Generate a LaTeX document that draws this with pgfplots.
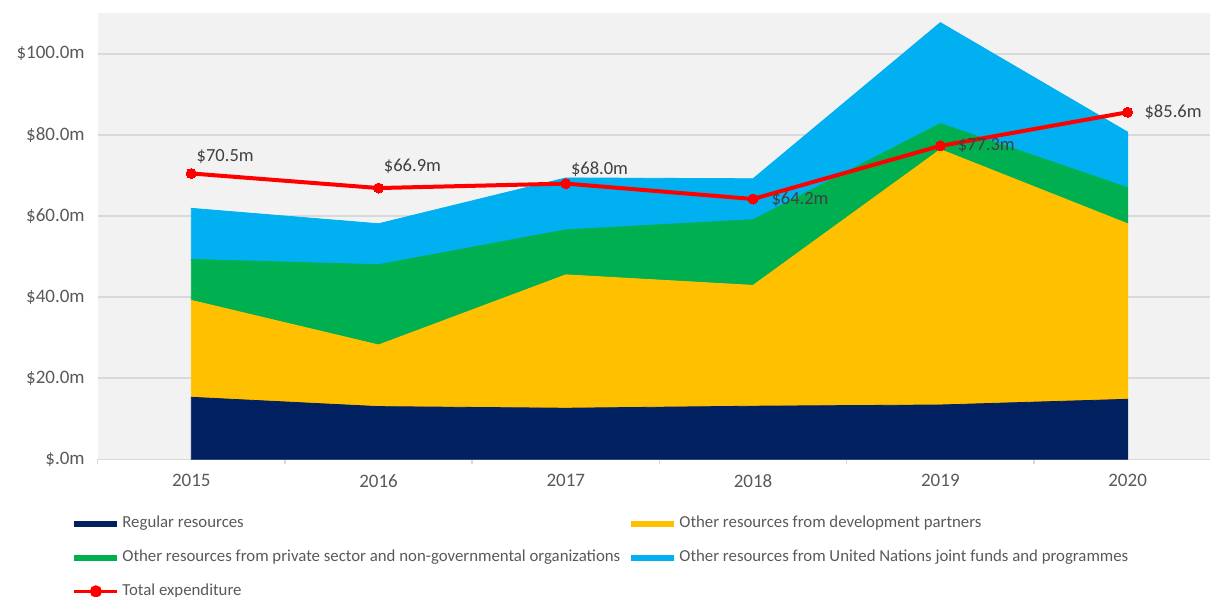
\documentclass[border=0pt]{standalone}
\usepackage{pgfplots}
\pgfplotsset{compat=1.18}
\usepackage{fontspec}
\setmainfont{Carlito}
\definecolor{navyc}{HTML}{002060}
\definecolor{yelc}{HTML}{FFC000}
\definecolor{grnc}{HTML}{00B050}
\definecolor{bluc}{HTML}{00B0F0}
\definecolor{redc}{HTML}{FF0000}
\definecolor{bgc}{HTML}{F2F2F2}
\definecolor{gridc}{HTML}{D9D9D9}
\definecolor{labc}{HTML}{595959}
\definecolor{datc}{HTML}{404040}
\pgfplotsset{
  common/.style={
    at={(48.85pt,68.35pt)}, anchor=south west,
    scale only axis, width=556.15pt, height=223pt,
    xmin=-0.5, xmax=5.44, ymin=0, ymax=110,
  }
}
\begin{document}
\begin{tikzpicture}
\useasboundingbox (0,0) rectangle (605pt,298pt);
\begin{axis}[
  common,
  axis background/.style={fill=bgc},
  axis x line*=bottom, axis y line*=left,
  y axis line style={draw=none},
  x axis line style={draw=gridc, line width=0.75pt},
  ytick={0,20,...,100},
  yticklabels={\$.0m,\$20.0m,\$40.0m,\$60.0m,\$80.0m,\$100.0m},
  ymajorgrids, grid style={gridc, line width=0.75pt},
  xtick={0,...,5}, xticklabels={2015,2016,2017,2018,2019,2020},
  minor xtick={-0.5,0.5,1.5,2.5,3.5,4.5},
  major tick length=0pt, minor tick length=2.5pt, tick align=outside,
  minor x tick style={draw=gridc, line width=0.75pt},
  ticklabel style={font=\fontsize{9.5}{11}\selectfont, text=labc},
  xticklabel style={yshift=-4pt},
  yticklabel style={xshift=-3pt},
  stack plots=y,
]
\addplot[fill=navyc, draw=navyc] coordinates {(0,15.3) (1,13.0) (2,12.6) (3,13.1) (4,13.4) (5,14.8)} \closedcycle;
\addplot[fill=yelc, draw=yelc] coordinates {(0,23.9) (1,15.2) (2,32.9) (3,29.8) (4,63.0) (5,43.3)} \closedcycle;
\addplot[fill=grnc, draw=grnc] coordinates {(0,10.1) (1,19.8) (2,11.1) (3,16.2) (4,6.4) (5,8.9)} \closedcycle;
\addplot[fill=bluc, draw=bluc] coordinates {(0,12.6) (1,10.1) (2,12.8) (3,10.1) (4,24.9) (5,13.7)} \closedcycle;
\end{axis}
\begin{axis}[
  common,
  axis lines=none,
  clip=false,
  legend columns=2,
  legend cell align=left,
  legend style={at={(axis description cs:-0.0294,-0.1135)}, anchor=north west,
    draw=none, fill=none, font=\fontsize{8.4}{10}\selectfont, text=labc,
    column sep=0pt, row sep=7.6pt, nodes={inner sep=1pt}},
  legend image code/.code={\draw[#1, line width=3pt] (0pt,0pt) -- (21.5pt,0pt);},
]
\addlegendimage{draw=navyc}
\addlegendentry{\makebox[252pt][l]{Regular resources}}
\addlegendimage{draw=yelc}
\addlegendentry{Other resources from development partners}
\addlegendimage{draw=grnc}
\addlegendentry{\makebox[252pt][l]{Other resources from private sector and non-governmental organizations}}
\addlegendimage{draw=bluc}
\addlegendentry{Other resources from United Nations joint funds and programmes}
\addplot[draw=redc, line width=2pt, mark=*, mark size=2.5pt, mark options={fill=redc, draw=redc, line width=0pt},
  legend image code/.code={\draw[redc, line width=1.6pt] (0pt,0pt) -- (21.5pt,0pt); \fill[redc] (10.75pt,0pt) circle (2pt);}]
  coordinates {(0,70.5) (1,66.9) (2,68.0) (3,64.2) (4,77.3) (5,85.6)};
\addlegendentry{\makebox[252pt][l]{Total expenditure}}
\node[font=\fontsize{9.25}{11}\selectfont, text=datc, inner sep=0pt, anchor=west, xshift=2.5pt, yshift=8.5pt] at (axis cs:0,70.5) {\$70.5m};
\node[font=\fontsize{9.25}{11}\selectfont, text=datc, inner sep=0pt, anchor=west, xshift=2.5pt, yshift=10.8pt] at (axis cs:1,66.9) {\$66.9m};
\node[font=\fontsize{9.25}{11}\selectfont, text=datc, inner sep=0pt, anchor=west, xshift=2.4pt, yshift=7.3pt] at (axis cs:2,68.0) {\$68.0m};
\node[font=\fontsize{9.25}{11}\selectfont, text=datc, inner sep=0pt, anchor=west, xshift=9pt] at (axis cs:3,64.2) {\$64.2m};
\node[font=\fontsize{9.25}{11}\selectfont, text=datc, inner sep=0pt, anchor=west, xshift=8.5pt] at (axis cs:4,77.3) {\$77.3m};
\node[font=\fontsize{9.25}{11}\selectfont, text=datc, inner sep=0pt, anchor=west, xshift=8.3pt] at (axis cs:5,85.6) {\$85.6m};
\end{axis}
\end{tikzpicture}
\end{document}
